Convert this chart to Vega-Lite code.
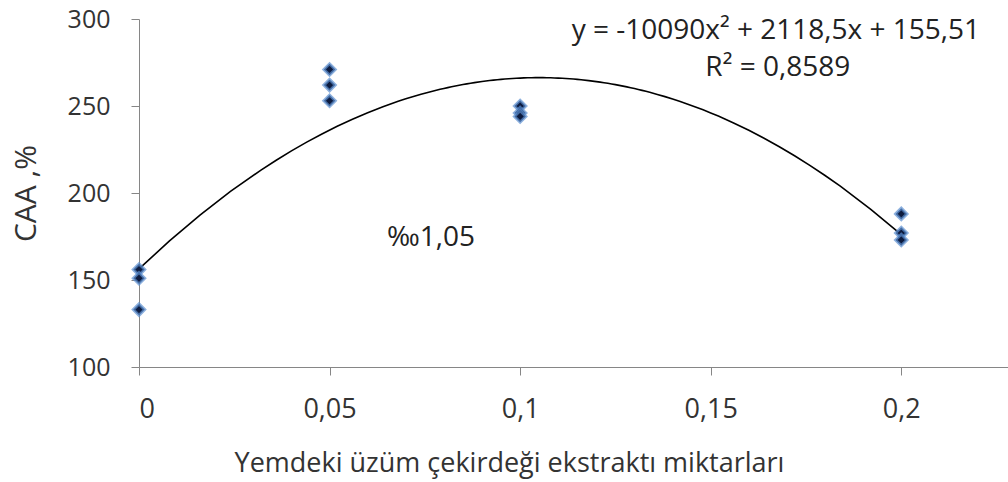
{
  "$schema": "https://vega.github.io/schema/vega-lite/v6.json",
  "width": 869,
  "height": 348,
  "autosize": "none",
  "padding": {"left": 139, "top": 19, "right": 0, "bottom": 115},
  "background": "white",
  "config": {
    "view": {"stroke": null},
    "font": "Open Sans",
    "axis": {"grid": false, "domainColor": "#868686", "tickColor": "#868686", "labelColor": "#333333", "titleColor": "#333333", "labelFont": "Open Sans", "titleFont": "Open Sans", "titleFontWeight": "normal"}
  },
  "datasets": {
    "points": [
      {"dose": 0, "caa": 156},
      {"dose": 0, "caa": 151},
      {"dose": 0, "caa": 133},
      {"dose": 0.05, "caa": 271},
      {"dose": 0.05, "caa": 262},
      {"dose": 0.05, "caa": 253},
      {"dose": 0.1, "caa": 250},
      {"dose": 0.1, "caa": 246},
      {"dose": 0.1, "caa": 244},
      {"dose": 0.2, "caa": 188},
      {"dose": 0.2, "caa": 177},
      {"dose": 0.2, "caa": 173}
    ],
    "notes": [
      {"dose": 0.1671, "caa": 293, "label": "y = -10090x² + 2118,5x + 155,51"},
      {"dose": 0.1676, "caa": 272, "label": "R² = 0,8589"},
      {"dose": 0.0766, "caa": 174, "label": "‰1,05"}
    ]
  },
  "layer": [
    {
      "data": {"name": "points"},
      "transform": [{"regression": "caa", "on": "dose", "method": "poly", "order": 2, "extent": [0, 0.2]}],
      "mark": {"type": "line", "color": "black", "strokeWidth": 1.6, "clip": true},
      "encoding": {
        "x": {"field": "dose", "type": "quantitative"},
        "y": {"field": "caa", "type": "quantitative"}
      }
    },
    {
      "data": {"name": "points"},
      "mark": {"type": "point", "shape": "diamond", "filled": true, "fill": "#0d1b3e", "stroke": "#5b8fd0", "strokeOpacity": 0.7, "strokeWidth": 3, "size": 130, "opacity": 1},
      "encoding": {
        "x": {
          "field": "dose", "type": "quantitative",
          "scale": {"domain": [0, 0.228], "nice": false, "zero": true},
          "axis": {
            "values": [0, 0.05, 0.1, 0.15, 0.2],
            "labelExpr": "replace(toString(datum.value), '.', ',')",
            "labelFontSize": 27, "labelPadding": 21, "tickSize": 8,
            "title": "Yemdeki üzüm çekirdeği ekstraktı miktarları",
            "titleFontSize": 27, "titleX": 370, "titleY": 104, "titleBaseline": "alphabetic", "titleAnchor": "middle"
          }
        },
        "y": {
          "field": "caa", "type": "quantitative",
          "scale": {"domain": [100, 300], "nice": false, "zero": false},
          "axis": {
            "values": [100, 150, 200, 250, 300],
            "labelFontSize": 25, "labelPadding": 21, "tickSize": 8,
            "title": "CAA ,%", "titleFontSize": 30, "titlePadding": 26
          }
        }
      }
    },
    {
      "data": {"name": "notes"},
      "mark": {"type": "text", "fontSize": 28, "color": "#222222", "align": "center", "baseline": "middle"},
      "encoding": {
        "x": {"field": "dose", "type": "quantitative"},
        "y": {"field": "caa", "type": "quantitative"},
        "text": {"field": "label"}
      }
    }
  ]
}
